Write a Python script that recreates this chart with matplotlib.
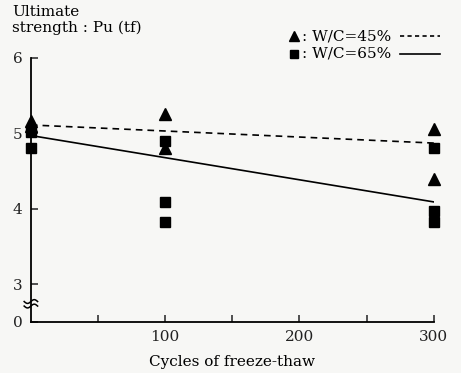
import numpy as np
import matplotlib
matplotlib.use("Agg")
import matplotlib.pyplot as plt

# data
cycles_45 = [0, 0, 100, 100, 300, 300]
pu_45 = [5.16, 5.10, 5.25, 4.80, 5.05, 4.39]
cycles_65 = [0, 0, 100, 100, 100, 300, 300, 300]
pu_65 = [5.02, 4.80, 4.90, 4.09, 3.83, 4.81, 3.97, 3.83]

# fitted lines (end points)
line_x = [0, 300]
line_45 = [5.11, 4.87]
line_65 = [4.97, 4.09]

y_ticks = [0, 3, 4, 5, 6]
x_ticks = [50, 100, 150, 200, 250, 300]
x_labels = ["", "100", "", "200", "", "300"]

BREAK_LO = 2.5  # where value 0 is drawn (axis is broken between 0 and 3)


def ypos(v):
    # map real value to drawn position on the broken axis
    v = np.asarray(v, dtype=float)
    return np.where(v <= 0, BREAK_LO, v)


plt.rcParams['font.family'] = ['DejaVu Serif']
bg = '#f7f7f5'
fig = plt.figure(figsize=(4.61, 3.73), dpi=100, facecolor=bg)
ax = fig.add_axes([0.067, 0.137, 0.874, 0.708], facecolor=bg)

ax.plot(line_x, line_45, color='black', lw=1.2, ls=(0, (4, 3)))
ax.plot(line_x, line_65, color='black', lw=1.2)
ax.plot(cycles_45, pu_45, ls='none', marker='^', ms=8, color='black', clip_on=False, zorder=3)
ax.plot(cycles_65, pu_65, ls='none', marker='s', ms=6.5, color='black', clip_on=False, zorder=3)

ax.set_xlim(0, 300)
ax.set_ylim(BREAK_LO, 6)
for s in ['top', 'right']:
    ax.spines[s].set_visible(False)
for s in ['left', 'bottom']:
    ax.spines[s].set_linewidth(1.3)

ax.set_xticks(x_ticks)
ax.set_xticklabels(x_labels, fontsize=11)
ax.set_yticks(ypos(y_ticks))
ax.set_yticklabels([str(t) for t in y_ticks], fontsize=11)
ax.tick_params(direction='in', length=5, width=1.1, pad=6, colors='#222222')

# axis break marks
t = np.linspace(-5, 5, 30)
for yb in [2.71, 2.77]:
    ax.plot(t, yb + 0.025 * np.sin(t / 5 * np.pi), color='black', lw=1.1, clip_on=False)

ax.set_xlabel("Cycles of freeze-thaw", fontsize=11, labelpad=8)
fig.text(0.026, 0.905, "Ultimate\nstrength : Pu (tf)", fontsize=11, ha='left', va='bottom',
         linespacing=1.15)

# legend in the original style: marker : label line-sample
leg_items = [('^', 'W/C=45%', (0, (2.5, 2))), ('s', 'W/C=65%', '-')]
for i, (m, lab, ls) in enumerate(leg_items):
    yy = 0.903 - i * 0.047
    fig.lines.append(plt.Line2D([0.638], [yy], marker=m, ms=7 if m == '^' else 6,
                                color='black', transform=fig.transFigure))
    fig.text(0.655, yy, ": " + lab, fontsize=11, va='center', ha='left')
    fig.lines.append(plt.Line2D([0.868, 0.955], [yy, yy], ls=ls, lw=1.2,
                                color='black', transform=fig.transFigure))

fig.savefig("out.png", dpi=100, facecolor=bg)
